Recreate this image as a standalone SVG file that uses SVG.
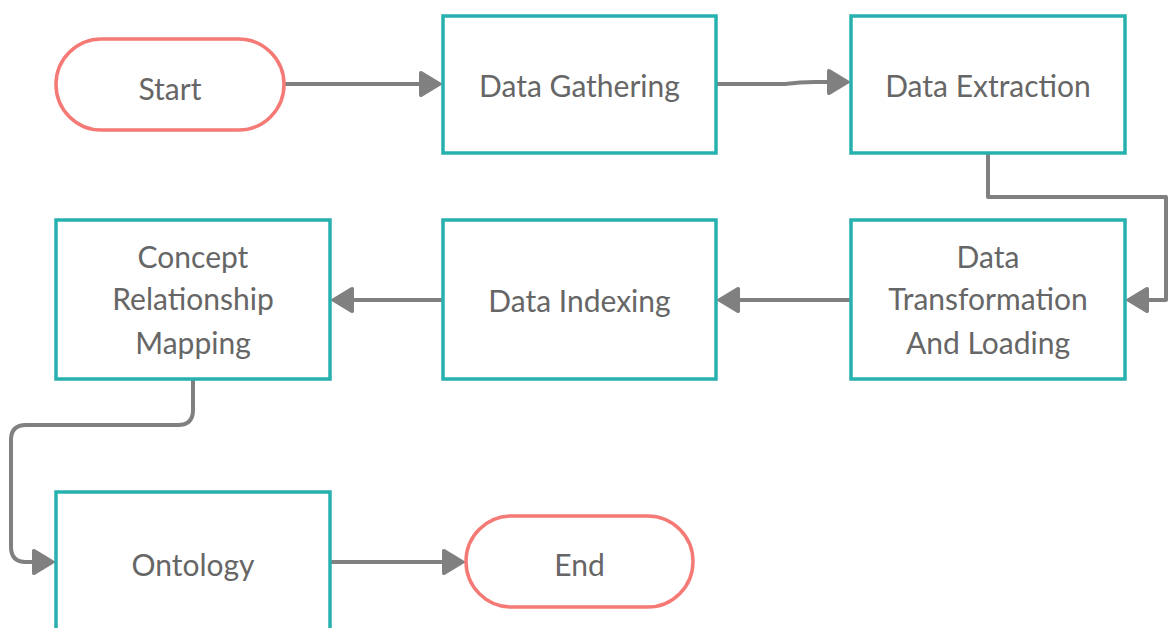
<svg xmlns="http://www.w3.org/2000/svg" width="1168" height="628" viewBox="0 0 1168 628">
<defs>
<style>
.box{fill:#fff;stroke:#26b0ae;stroke-width:3.5}
.term{fill:#fff;stroke:#f57a76;stroke-width:3.5}
.lbl{font-family:Lato,"Open Sans",sans-serif;font-size:30px;fill:#666;text-anchor:middle}
.conn{fill:none;stroke:#808080;stroke-width:4;stroke-linejoin:round}
</style>
<marker id="arr" viewBox="0 0 24 28" refX="1" refY="14" markerWidth="24" markerHeight="28" markerUnits="userSpaceOnUse" orient="auto">
<path d="M0,3 Q0,0 3,1.3 L24,14 L3,26.7 Q0,28 0,25 Z" fill="#808080"/>
</marker>
</defs>
<rect width="1168" height="628" fill="#fff"/>
<g id="connectors">
<path class="conn" d="M284,84 L420,84" marker-end="url(#arr)"/>
<path class="conn" d="M716,84 L785,84 Q800,82 815,82 L828,82" marker-end="url(#arr)"/>
<path class="conn" d="M988,153 L988,197 L1166,197 L1166,300 L1148,300" marker-end="url(#arr)"/>
<path class="conn" d="M851,300 L739,300" marker-end="url(#arr)"/>
<path class="conn" d="M443,300 L353,300" marker-end="url(#arr)"/>
<path class="conn" d="M193,380 L193,410 Q193,425 178,425 L26,425 Q11,425 11,440 L11,547 Q11,562 26,562 L33,562" marker-end="url(#arr)"/>
<path class="conn" d="M330,562 L443,562" marker-end="url(#arr)"/>
</g>
<g id="start">
<rect class="term" x="56" y="39" width="228" height="91" rx="45.5"/>
<text class="lbl" x="170" y="100">Start</text>
</g>
<g id="data-gathering">
<rect class="box" x="443" y="16" width="273" height="137"/>
<text class="lbl" x="579.5" y="97">Data Gathering</text>
</g>
<g id="data-extraction">
<rect class="box" x="851" y="16" width="274" height="137"/>
<text class="lbl" x="988" y="97">Data Extraction</text>
</g>
<g id="data-transformation">
<rect class="box" x="851" y="220" width="274" height="159"/>
<text class="lbl" x="988" y="268">Data</text>
<text class="lbl" x="988" y="310">Transformation</text>
<text class="lbl" x="988" y="354">And Loading</text>
</g>
<g id="data-indexing">
<rect class="box" x="443" y="220" width="273" height="159"/>
<text class="lbl" x="579.5" y="312">Data Indexing</text>
</g>
<g id="concept-relationship-mapping">
<rect class="box" x="56" y="220" width="274" height="159"/>
<text class="lbl" x="193" y="268">Concept</text>
<text class="lbl" x="193" y="310">Relationship</text>
<text class="lbl" x="193" y="354">Mapping</text>
</g>
<g id="ontology">
<rect class="box" x="56" y="492" width="274" height="150"/>
<text class="lbl" x="193" y="576">Ontology</text>
</g>
<g id="end">
<rect class="term" x="466" y="516" width="227" height="91" rx="45.5"/>
<text class="lbl" x="579.5" y="576">End</text>
</g>
</svg>
